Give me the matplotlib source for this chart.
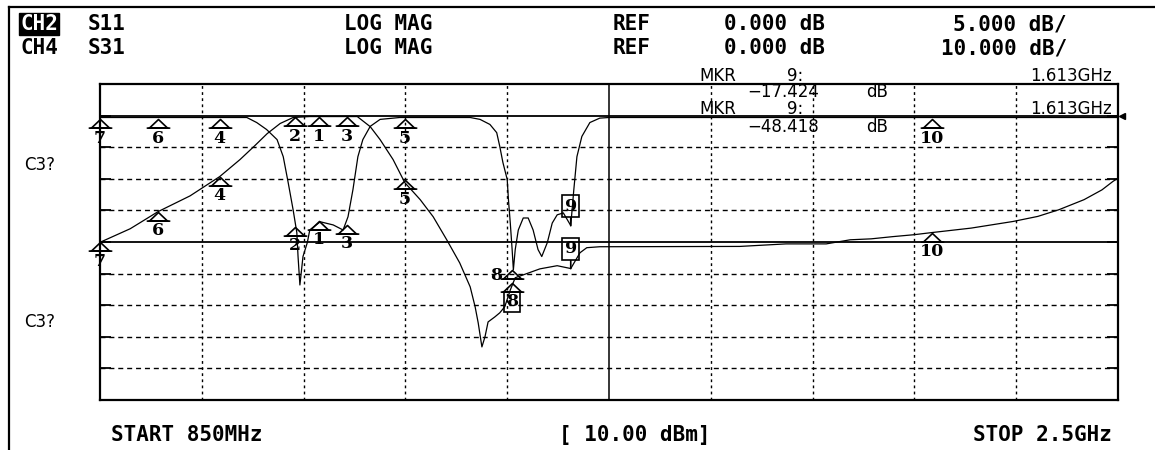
import matplotlib
matplotlib.use("Agg")
import matplotlib.pyplot as plt
from matplotlib.path import Path

# ---- trace data (GHz, dB) ----
freq_s11 = [0.850, 1.000, 1.088, 1.104, 1.120, 1.137, 1.147, 1.155, 1.163, 1.169,
            1.171, 1.174, 1.179, 1.186, 1.190, 1.207, 1.228, 1.244, 1.252, 1.260,
            1.268, 1.276, 1.288, 1.304, 1.336, 1.450, 1.466, 1.482, 1.493, 1.498,
            1.503, 1.510, 1.512, 1.515, 1.518, 1.520, 1.523, 1.528, 1.536, 1.544,
            1.552, 1.560, 1.566, 1.575, 1.583, 1.591, 1.601, 1.613, 1.618, 1.623,
            1.631, 1.644, 1.660, 1.675, 2.000, 2.500]
s11_db = [-0.3, -0.3, -0.3, -1.1, -2.2, -3.8, -6.5, -10.6, -14.9, -18.5,
          -22.3, -26.8, -22.3, -20.1, -18.1, -16.8, -17.3, -18.1, -16.0, -11.7,
          -6.5, -3.8, -1.7, -0.6, -0.3, -0.3, -0.6, -1.4, -2.7, -4.9,
          -7.4, -10.1, -13.3, -17.0, -21.2, -24.4, -21.2, -18.1, -16.2, -16.2,
          -18.1, -21.2, -22.3, -20.1, -17.0, -15.7, -15.4, -17.4, -11.7, -6.5,
          -3.3, -1.1, -0.4, -0.3, -0.3, -0.3]

freq_s31 = [0.850, 0.899, 0.944, 0.996, 1.044, 1.077, 1.101, 1.121, 1.142, 1.163,
            1.190, 1.239, 1.267, 1.288, 1.304, 1.325, 1.344, 1.369, 1.390, 1.412,
            1.433, 1.450, 1.458, 1.463, 1.469, 1.474, 1.479, 1.490, 1.498, 1.506,
            1.515, 1.523, 1.536, 1.563, 1.591, 1.613, 1.628, 1.639, 1.660, 1.887,
            1.962, 2.027, 2.066, 2.100, 2.135, 2.169, 2.199, 2.262, 2.330, 2.370,
            2.404, 2.445, 2.474, 2.492, 2.500]
s31_db = [-40.1, -35.8, -30.4, -25.4, -19.3, -13.9, -9.5, -5.7, -2.5, -0.6,
          -0.3, -0.3, -0.3, -3.5, -7.6, -13.9, -21.2, -26.6, -32.0, -39.3,
          -46.6, -54.2, -60.5, -65.6, -73.2, -70.0, -65.3, -63.7, -62.4, -60.5,
          -55.2, -51.3, -50.4, -48.5, -47.5, -48.4, -43.4, -41.8, -41.5, -41.4,
          -40.6, -40.6, -39.3, -39.0, -38.3, -37.7, -37.0, -35.6, -33.5, -31.9,
          -29.8, -26.6, -23.5, -20.8, -19.8]

# markers: name, frequency, value on S11, value on S31
mk_names = ["7", "6", "4", "2", "1", "3", "5", "8", "9", "10"]
mk_freq = [0.850, 0.944, 1.044, 1.166, 1.205, 1.250, 1.344, 1.518, 1.613, 2.199]
mk_s11 = [-0.6, -0.6, -0.6, -17.6, -16.6, -17.3, -0.6, -24.4, -17.424, -0.6]
mk_s31 = [-40.1, -30.4, -19.3, -0.6, -0.6, -0.6, -20.5, -53.0, -48.418, -37.0]

F_START, F_STOP = 0.85, 2.5
S11_REF, S11_DIV = 0.0, 5.0
S31_REF, S31_DIV = 0.0, 10.0
REF_POS = 9          # reference line sits 9 divisions up
NDIV = 10

W, H = 1155, 450
K = "black"
MONO = "DejaVu Sans Mono"
THIN = "DejaVu Sans"

fig = plt.figure(figsize=(W / 100, H / 100), dpi=100)
fig.patch.set_facecolor("white")

# graticule
ax = fig.add_axes([100 / W, 1 - 400 / H, 1018 / W, 316 / H])
lo11 = S11_REF - REF_POS * S11_DIV
ax.set_xlim(F_START, F_STOP)
ax.set_ylim(lo11, lo11 + NDIV * S11_DIV)
ax31 = ax.twinx()
lo31 = S31_REF - REF_POS * S31_DIV
ax31.set_ylim(lo31, lo31 + NDIV * S31_DIV)
ax31.set_yticks([])
for s in ax31.spines.values():
    s.set_visible(False)

for s in ax.spines.values():
    s.set_linewidth(1.6)
ax.set_xticks([])
ax.set_yticks([lo11 + j * S11_DIV for j in range(1, NDIV)])
ax.tick_params(axis="y", direction="in", length=8, width=1.3, left=True,
               right=True, labelleft=False, labelright=False)

fstep = (F_STOP - F_START) / NDIV
for i in range(1, NDIV):
    ls = "-" if i == 5 else (0, (2.0, 2.4))
    ax.axvline(F_START + i * fstep, color=K, lw=1.1 if i == 5 else 1.0, ls=ls, zorder=1)
for j in range(1, NDIV):
    solid = j in (5, REF_POS)
    ax.axhline(lo11 + j * S11_DIV, color=K, lw=1.3 if solid else 1.0,
               ls="-" if solid else (0, (3.6, 2.8)), zorder=1)

# traces
ax.plot(freq_s11, s11_db, color=K, lw=0.9, zorder=3)
ax31.plot(freq_s31, s31_db, color=K, lw=0.9, zorder=3)

# marker glyph: open triangle with a wider base bar, apex on the trace
hw, th, bw = 0.77, 0.73, 1.0
mk_path = Path([(-hw, -th), (0, 0), (hw, -th), (-hw, -th), (-bw, -th), (bw, -th)],
               [Path.MOVETO, Path.LINETO, Path.LINETO, Path.CLOSEPOLY,
                Path.MOVETO, Path.LINETO])

num_kw = dict(textcoords="offset points", fontfamily="DejaVu Serif",
              fontweight="bold", fontsize=12.5, color=K, annotation_clip=False)

for a, vals in ((ax, mk_s11), (ax31, mk_s31)):
    for name, f, v in zip(mk_names, mk_freq, vals):
        if name == "9":
            a.annotate(name, (f, v), xytext=(0, 8), ha="center", va="bottom",
                       bbox=dict(boxstyle="square,pad=0.15", fc="none", ec=K, lw=1.2),
                       arrowprops=dict(arrowstyle="-", lw=1.2, color=K,
                                       shrinkA=0, shrinkB=0), **num_kw)
            continue
        a.plot([f], [v], marker=mk_path, ms=17, mfc="none", mec=K, mew=1.2,
               ls="none", clip_on=False, zorder=4)
        if name == "8" and a is ax:
            # the two "8" markers sit on top of each other; label this one at the side
            a.annotate(name, (f, v), xytext=(-7, -4), ha="right", va="center", **num_kw)
            continue
        box = None
        if name == "8":
            box = dict(boxstyle="square,pad=0.1", fc="none", ec=K, lw=1.2)
        a.annotate(name, (f, v), xytext=(0, -7.5), ha="center", va="top", bbox=box, **num_kw)

# screen annotations in pixel coordinates
scr = fig.add_axes([0, 0, 1, 1], zorder=5)
scr.set_xlim(0, W)
scr.set_ylim(H, 0)
scr.axis("off")
scr.patch.set_alpha(0)

scr.plot([9, 9], [7, H], color=K, lw=1.6)
scr.plot([9, W], [7, 7], color=K, lw=1.6)
scr.plot([1122], [116], marker="<", ms=5, color=K)

hdr = dict(family=MONO, fontweight="bold", fontsize=15, color=K, va="center")
rows = [
    (24, "CH2", "S11", "5.000 dB/"),
    (48, "CH4", "S31", "10.000 dB/"),
]
for y, ch, par, scale in rows:
    if ch == "CH2":
        scr.text(39, y, ch, ha="center",
                 bbox=dict(boxstyle="square,pad=0.06", fc=K, ec=K), **{**hdr, "color": "white"})
    else:
        scr.text(39, y, ch, ha="center", **hdr)
    scr.text(107, y, par, ha="center", **hdr)
    scr.text(388, y, "LOG MAG", ha="center", **hdr)
    scr.text(632, y, "REF", ha="center", **hdr)
    scr.text(774, y, "0.000 dB", ha="center", **hdr)
    scr.text(1067, y, scale, ha="right", **hdr)

scr.text(187, 435, "START 850MHz", ha="center", **hdr)
scr.text(635, 435, "[ 10.00 dBm]", ha="center", **hdr)
scr.text(1042, 435, "STOP 2.5GHz", ha="center", **hdr)

thin = dict(family=THIN, fontsize=12, color=K, va="center")
for y_mkr, y_val, val in ((76, 92, "\u221217.424"), (109, 127, "\u221248.418")):
    scr.text(718, y_mkr, "MKR", ha="center", **thin)
    scr.text(795, y_mkr, "9:", ha="center", **thin)
    scr.text(1112, y_mkr, "1.613GHz", ha="right", **thin)
    scr.text(783, y_val, val, ha="center", **thin)
    scr.text(877, y_val, "dB", ha="center", **thin)

scr.text(40, 165, "C3?", ha="center", **thin)
scr.text(40, 322, "C3?", ha="center", **thin)

fig.savefig("out.png", dpi=100)
